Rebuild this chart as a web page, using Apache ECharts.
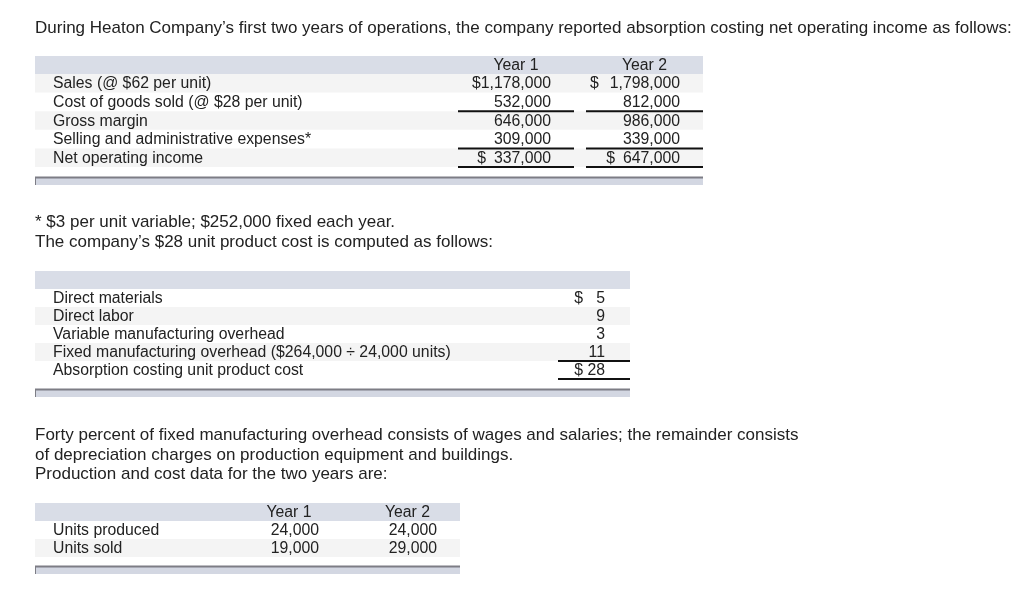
<!DOCTYPE html>
<html>
<head>
<meta charset="utf-8">
<script src="https://cdn.jsdelivr.net/npm/echarts@6/dist/echarts.min.js"></script>
<style>html,body{margin:0;padding:0;background:#fff}#c{width:1024px;height:593px}</style>
</head>
<body>
<div id="c"></div>
<script>
// ---------- content ----------
const introText = 'During Heaton Company\u2019s first two years of operations, the company reported absorption costing net operating income as follows:';
const yearHeaders = ['Year 1', 'Year 2'];
const incomeLabels = ['Sales (@ $62 per unit)', 'Cost of goods sold (@ $28 per unit)', 'Gross margin', 'Selling and administrative expenses*', 'Net operating income'];
const incomeYear1 = [1178000, 532000, 646000, 309000, 337000];
const incomeYear2 = [1798000, 812000, 986000, 339000, 647000];
const incomeYear1Prefix = ['$', '', '', '', '$\u2002'];
const incomeYear2Prefix = ['$\u2002\u2009', '', '', '', '$\u2002'];
const incomeRulesAfter = [1, 3, 4];

const footnoteLines = ['* $3 per unit variable; $252,000 fixed each year.', 'The company\u2019s $28 unit product cost is computed as follows:'];
const costLabels = ['Direct materials', 'Direct labor', 'Variable manufacturing overhead', 'Fixed manufacturing overhead ($264,000 \u00f7 24,000 units)', 'Absorption costing unit product cost'];
const costValues = [5, 9, 3, 11, 28];
const costPrefix = ['$ \u2007', '', '', '', '$ '];
const costRulesAfter = [3, 4];

const paragraphLines = ['Forty percent of fixed manufacturing overhead consists of wages and salaries; the remainder consists', 'of depreciation charges on production equipment and buildings.', 'Production and cost data for the two years are:'];
const unitLabels = ['Units produced', 'Units sold'];
const unitsYear1 = [24000, 19000];
const unitsYear2 = [24000, 29000];

// ---------- styling / layout ----------
const FONT = '"Liberation Sans", Arial, sans-serif';
const INK = '#222';
const HEAD_BG = '#d9dde7';
const ALT_BG = '#f4f4f4';
const BAR_BG = '#d3d7e2';
const BAR_EDGE = '#7d7d85';
const PROSE = 17;
const CELL = 15.8;
const fmt = v => v.toLocaleString('en-US');

const els = [];
function txt(x, y, s, align, size) {
  els.push({type: 'text', silent: true, x: x, y: y,
    style: {text: s, fill: INK, fontSize: size, fontFamily: FONT, align: align || 'left', verticalAlign: 'middle'}});
}
function rect(x, y, w, h, fill) {
  els.push({type: 'rect', silent: true, shape: {x: x, y: y, width: w, height: h}, style: {fill: fill}});
}
function hline(x1, x2, y, color, lw) {
  els.push({type: 'line', silent: true, shape: {x1: x1, y1: y, x2: x2, y2: y}, style: {stroke: color, lineWidth: lw}});
}
function scrollBar(left, right, top) {
  rect(left, top, right - left, 8, BAR_BG);
  hline(left, right, top + 0.5, BAR_EDGE, 2);
  els.push({type: 'line', silent: true, shape: {x1: left + 0.5, y1: top, x2: left + 0.5, y2: top + 8}, style: {stroke: BAR_EDGE, lineWidth: 1}});
}

function table(cfg) {
  const {left, right, top, headH, rowH, labelX, labels, cols, rowShade, rules, barGap, size} = cfg;
  rect(left, top, right - left, headH, HEAD_BG);
  const body = top + headH;
  labels.forEach((lab, i) => {
    const y0 = body + i * rowH;
    if (rowShade(i)) rect(left, y0, right - left, rowH, ALT_BG);
  });
  cols.forEach(c => {
    if (c.header) txt((c.x1 + c.x2) / 2, top + headH / 2 + 0.5, c.header, 'center', size);
  });
  labels.forEach((lab, i) => {
    const yc = body + i * rowH + rowH / 2 + 0.8;
    txt(labelX, yc, lab, 'left', size);
    cols.forEach(c => txt(c.valueRight, yc, (c.prefix ? c.prefix[i] : '') + fmt(c.values[i]), 'right', size));
  });
  (rules || []).forEach(r => {
    const y = body + (r + 1) * rowH;
    cols.forEach(c => hline(c.x1, c.x2, y, '#111', 2));
  });
  scrollBar(left, right, body + labels.length * rowH + barGap);
}

// intro
txt(35, 28, introText, 'left', PROSE);

// income statement
table({left: 35, right: 703, top: 56, headH: 18, rowH: 18.6, labelX: 53, labels: incomeLabels, size: CELL,
  rowShade: i => i % 2 === 0, rules: incomeRulesAfter, barGap: 10,
  cols: [
    {header: yearHeaders[0], x1: 458, x2: 574, valueRight: 551, values: incomeYear1, prefix: incomeYear1Prefix},
    {header: yearHeaders[1], x1: 586, x2: 703, valueRight: 680, values: incomeYear2, prefix: incomeYear2Prefix}
  ]});

// footnote
footnoteLines.forEach((s, i) => txt(35, 222.5 + i * 20, s, 'left', PROSE));

// unit cost
table({left: 35, right: 630, top: 271, headH: 18, rowH: 18, labelX: 53, labels: costLabels, size: CELL,
  rowShade: i => i % 2 === 1, rules: costRulesAfter, barGap: 10,
  cols: [
    {header: '', x1: 558, x2: 630, valueRight: 605, values: costValues, prefix: costPrefix}
  ]});

// paragraph
paragraphLines.forEach((s, i) => txt(35, 435.5 + i * 19.5, s, 'left', PROSE));

// units
table({left: 35, right: 460, top: 503, headH: 18, rowH: 18, labelX: 53, labels: unitLabels, size: CELL,
  rowShade: i => i % 2 === 1, rules: [], barGap: 9,
  cols: [
    {header: yearHeaders[0], x1: 260, x2: 318, valueRight: 319, values: unitsYear1},
    {header: yearHeaders[1], x1: 378, x2: 437, valueRight: 437, values: unitsYear2}
  ]});

const chart = echarts.init(document.getElementById('c'), null, {renderer: 'canvas'});
chart.setOption({animation: false, backgroundColor: '#fff', graphic: {elements: els}});
</script>
</body>
</html>
